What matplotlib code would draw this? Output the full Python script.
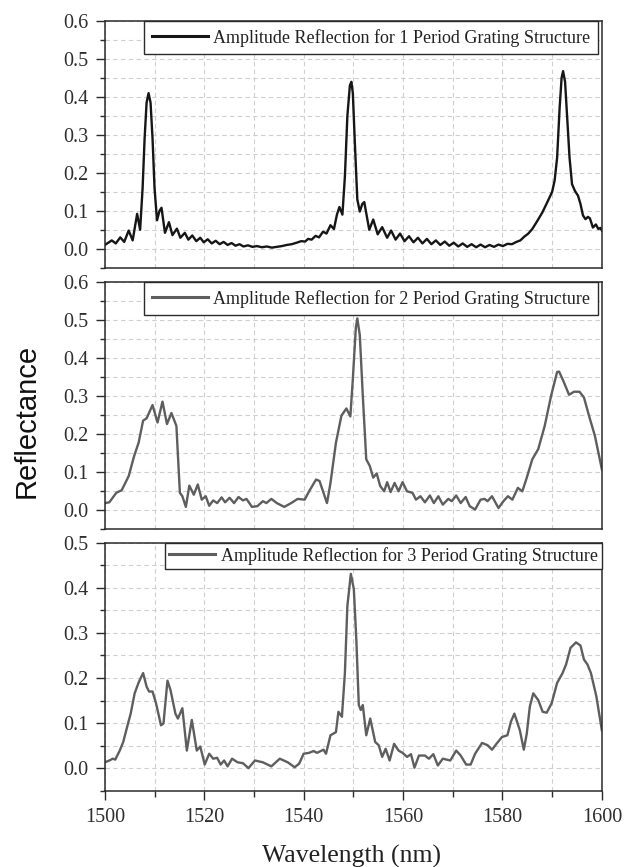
import matplotlib
matplotlib.use("Agg")
import matplotlib.pyplot as plt
from matplotlib.ticker import MultipleLocator

# reflectance spectra (wavelength in nm, amplitude reflection)
wl_1 = [1500.0, 1500.7, 1501.4, 1502.2, 1503.1, 1503.9, 1504.8, 1505.6, 1506.5, 1507.1,
        1507.6, 1508.0, 1508.4, 1508.8, 1509.2, 1509.6, 1510.0, 1510.5, 1511.0, 1511.4,
        1512.1, 1512.9, 1513.6, 1514.5, 1515.2, 1516.1, 1516.8, 1517.6, 1518.4, 1519.2,
        1519.9, 1520.7, 1521.5, 1522.3, 1523.1, 1523.9, 1524.7, 1525.5, 1526.3, 1527.1,
        1527.9, 1528.8, 1529.7, 1530.6, 1531.6, 1532.6, 1533.6, 1534.6, 1535.6, 1536.6,
        1537.6, 1538.6, 1539.5, 1540.3, 1540.9, 1541.6, 1542.4, 1543.1, 1543.9, 1544.6,
        1545.4, 1546.1, 1546.7, 1547.2, 1547.8, 1548.3, 1548.8, 1549.3, 1549.6, 1549.9,
        1550.3, 1550.8, 1551.3, 1551.8, 1552.2, 1553.2, 1554.0, 1554.9, 1555.8, 1556.8,
        1557.6, 1558.5, 1559.4, 1560.3, 1561.2, 1562.1, 1563.0, 1563.9, 1564.8, 1565.7,
        1566.6, 1567.5, 1568.4, 1569.3, 1570.2, 1571.1, 1572.0, 1572.9, 1573.8, 1574.7,
        1575.6, 1576.5, 1577.4, 1578.3, 1579.2, 1580.1, 1581.0, 1581.9, 1582.8, 1583.6,
        1584.4, 1585.2, 1586.0, 1587.0, 1588.0, 1589.0, 1590.0, 1590.5, 1591.0, 1591.5,
        1591.9, 1592.2, 1592.6, 1593.0, 1593.5, 1594.0, 1594.6, 1595.2, 1595.7, 1596.2,
        1596.7, 1597.2, 1597.6, 1598.2, 1598.8, 1599.3, 1599.7, 1600.0]
refl_1 = [.010, .016, .022, .014, .030, .018, .048, .022, .092, .050,
          .160, .290, .385, .410, .385, .290, .160, .075, .100, .108,
          .042, .070, .036, .053, .029, .042, .024, .035, .020, .029,
          .017, .025, .014, .021, .012, .018, .010, .015, .008, .012,
          .006, .009, .005, .007, .004, .006, .003, .005, .007, .010,
          .012, .016, .020, .019, .026, .024, .034, .030, .045, .040,
          .062, .052, .090, .110, .090, .190, .350, .430, .440, .410,
          .280, .130, .098, .118, .123, .050, .077, .038, .057, .029,
          .048, .024, .040, .020, .033, .017, .029, .014, .026, .012,
          .022, .010, .019, .008, .016, .006, .014, .005, .012, .004,
          .011, .004, .010, .005, .011, .007, .013, .012, .018, .022,
          .032, .040, .052, .073, .095, .122, .150, .180, .240, .370,
          .450, .468, .440, .350, .240, .170, .152, .140, .118, .088,
          .078, .084, .080, .056, .064, .052, .055, .048]

wl_2 = [1500.0, 1500.9, 1502.3, 1503.4, 1504.8, 1505.9, 1506.8, 1507.7, 1508.4, 1509.6,
        1510.6, 1511.6, 1512.5, 1513.4, 1514.4, 1515.1, 1515.6, 1516.3, 1517.0, 1517.9,
        1518.7, 1519.5, 1520.3, 1521.0, 1521.8, 1522.6, 1523.5, 1524.2, 1525.1, 1526.0,
        1526.9, 1527.8, 1528.5, 1529.6, 1530.7, 1531.8, 1532.5, 1533.5, 1534.6, 1536.1,
        1537.5, 1538.8, 1540.2, 1541.1, 1542.5, 1543.2, 1544.0, 1544.7, 1545.4, 1546.5,
        1547.6, 1548.6, 1549.4, 1549.9, 1550.5, 1550.8, 1551.3, 1551.9, 1552.6, 1553.3,
        1554.0, 1554.7, 1555.4, 1556.2, 1556.8, 1557.5, 1558.3, 1559.1, 1559.9, 1560.8,
        1561.9, 1562.6, 1563.5, 1564.4, 1565.4, 1566.2, 1567.1, 1568.0, 1569.1, 1569.8,
        1570.7, 1571.6, 1572.6, 1573.4, 1574.5, 1575.6, 1576.4, 1577.0, 1577.9, 1579.2,
        1580.2, 1581.1, 1582.0, 1583.1, 1584.0, 1584.9, 1586.0, 1587.2, 1588.5, 1589.8,
        1591.0, 1591.4, 1592.2, 1593.4, 1594.4, 1595.5, 1596.4, 1597.5, 1598.6, 1600.0]
refl_2 = [.019, .021, .046, .053, .090, .143, .178, .236, .242, .277,
          .231, .286, .227, .256, .222, .046, .037, .009, .065, .041,
          .068, .028, .037, .012, .026, .019, .034, .021, .033, .019,
          .035, .026, .030, .009, .011, .024, .019, .030, .019, .009,
          .019, .030, .028, .050, .081, .077, .046, .019, .072, .178,
          .249, .268, .247, .346, .480, .505, .461, .302, .134, .117,
          .086, .097, .064, .050, .074, .048, .072, .050, .074, .050,
          .046, .028, .037, .021, .039, .019, .037, .015, .030, .024,
          .039, .019, .035, .011, .002, .028, .030, .024, .037, .006,
          .024, .037, .028, .059, .050, .086, .134, .161, .222, .302,
          .364, .365, .342, .304, .312, .312, .297, .245, .196, .108]

wl_3 = [1500.0, 1500.9, 1501.6, 1502.1, 1503.0, 1503.7, 1504.5, 1505.2, 1506.0, 1506.8,
        1507.7, 1508.4, 1508.9, 1509.6, 1510.3, 1511.3, 1511.8, 1512.6, 1513.2, 1514.2,
        1514.7, 1515.6, 1516.5, 1517.5, 1518.5, 1519.2, 1520.1, 1521.0, 1521.8, 1522.6,
        1523.3, 1524.0, 1524.7, 1525.6, 1526.7, 1527.8, 1528.9, 1530.2, 1531.8, 1533.5,
        1535.2, 1536.8, 1538.2, 1539.1, 1540.0, 1541.1, 1542.0, 1542.7, 1544.0, 1544.5,
        1545.4, 1546.5, 1547.0, 1547.7, 1548.3, 1548.8, 1549.5, 1550.1, 1550.6, 1551.1,
        1551.5, 1551.9, 1552.6, 1553.4, 1554.4, 1555.1, 1555.8, 1556.5, 1557.3, 1558.2,
        1559.1, 1559.9, 1560.8, 1561.6, 1562.3, 1563.2, 1564.4, 1565.2, 1566.1, 1567.0,
        1568.0, 1569.5, 1570.7, 1571.6, 1572.7, 1573.6, 1574.5, 1575.9, 1577.0, 1577.9,
        1578.8, 1579.9, 1581.0, 1581.7, 1582.4, 1583.5, 1584.3, 1584.9, 1585.5, 1586.2,
        1587.2, 1588.1, 1588.9, 1589.9, 1591.0, 1592.1, 1592.8, 1593.7, 1594.8, 1595.7,
        1596.4, 1597.1, 1597.8, 1598.9, 1600.0]
refl_3 = [.013, .017, .021, .019, .039, .058, .092, .121, .166, .190,
          .211, .181, .170, .170, .144, .095, .099, .194, .174, .121,
          .110, .133, .039, .107, .039, .048, .008, .032, .021, .023,
          .008, .017, .004, .021, .013, .011, .000, .017, .013, .004,
          .021, .013, .002, .010, .032, .034, .038, .034, .041, .032,
          .073, .080, .125, .114, .211, .360, .431, .397, .285, .140,
          .129, .140, .073, .110, .058, .051, .025, .043, .017, .054,
          .039, .034, .025, .031, .001, .028, .028, .021, .031, .006,
          .021, .017, .039, .028, .008, .008, .032, .056, .051, .041,
          .054, .069, .073, .103, .121, .084, .041, .077, .136, .166,
          .151, .125, .123, .144, .189, .211, .230, .267, .279, .272,
          .241, .230, .211, .159, .084]

labels = ["Amplitude Reflection for 1 Period Grating Structure",
          "Amplitude Reflection for 2 Period Grating Structure",
          "Amplitude Reflection for 3 Period Grating Structure"]
y_tops = [0.6, 0.6, 0.5]
line_colors = ["#161616", "#5e5e5e", "#5e5e5e"]

SERIF = ["Liberation Serif", "DejaVu Serif"]
plt.rcParams["font.family"] = SERIF

fig = plt.figure(figsize=(6.24, 8.67), dpi=100)
fig.patch.set_facecolor("white")

# axes boxes in figure fractions: left, bottom, width, height
boxes = [
    (0.168, 0.6912, 0.7965, 0.2845),
    (0.168, 0.3895, 0.7965, 0.2849),
    (0.168, 0.0880, 0.7965, 0.2860),
]
legend_anchor = [(0.992, 1.0), (0.992, 1.0), (1.0, 1.0)]
legend_pad = [0.42, 0.42, 0.22]
handle_len = [3.1, 3.1, 2.6]

series = [(wl_1, refl_1), (wl_2, refl_2), (wl_3, refl_3)]

for i, (box, (wl, refl)) in enumerate(zip(boxes, series)):
    ax = fig.add_axes(box)
    ax.plot(wl, refl, color=line_colors[i], lw=1.7, label=labels[i],
            solid_joinstyle="round")
    ax.set_xlim(1500, 1600)
    ax.set_ylim(-0.05, y_tops[i])

    ax.xaxis.set_major_locator(MultipleLocator(20))
    ax.xaxis.set_minor_locator(MultipleLocator(10))
    ax.yaxis.set_major_locator(MultipleLocator(0.1))
    ax.yaxis.set_minor_locator(MultipleLocator(0.05))
    ax.yaxis.set_major_formatter(plt.FormatStrFormatter("%.1f"))

    ax.grid(True, which="both", color="#cfcfcf", lw=0.8, ls=(0, (4, 3)))
    ax.set_axisbelow(True)

    for sp in ax.spines.values():
        sp.set_color("#2a2a2a")
        sp.set_linewidth(1.1)

    ax.tick_params(axis="y", which="major", direction="out", length=6.5,
                   width=1.0, pad=5, labelsize=14.5, labelcolor="#2e2e2e",
                   color="#2a2a2a")
    ax.tick_params(axis="y", which="minor", direction="out", length=3.5,
                   width=1.0, color="#2a2a2a")
    if i < 2:
        ax.tick_params(axis="x", which="both", length=0, labelbottom=False)
    else:
        ax.tick_params(axis="x", which="major", direction="out", length=6.5,
                       width=1.0, pad=6, labelsize=14.5, labelcolor="#2e2e2e",
                       color="#2a2a2a")
        ax.tick_params(axis="x", which="minor", direction="out", length=4,
                       width=1.0, color="#2a2a2a")
    # labelled ticks only from 0.0 upwards
    ax.set_yticks([t / 10 for t in range(0, int(round(y_tops[i] * 10)) + 1)])

    leg = ax.legend(loc="upper right", bbox_to_anchor=legend_anchor[i],
                    borderaxespad=0, fontsize=13, frameon=True, fancybox=False,
                    framealpha=1, borderpad=legend_pad[i],
                    handlelength=handle_len[i], handletextpad=0.3)
    leg.get_frame().set_edgecolor("#2a2a2a")
    leg.get_frame().set_linewidth(1.0)
    for line in leg.get_lines():
        line.set_linewidth(2.2)
    for txt in leg.get_texts():
        txt.set_color("#222222")

fig.text(0.042, 0.514, "Reflectance", rotation=90, ha="center", va="center",
         fontsize=21, family=["Liberation Sans", "DejaVu Sans"], color="#111111")
fig.text(0.563, 0.0125, "Wavelength (nm)", ha="center", va="center",
         fontsize=18.5, color="#222222")

fig.savefig("out.png", dpi=100, facecolor="white")
